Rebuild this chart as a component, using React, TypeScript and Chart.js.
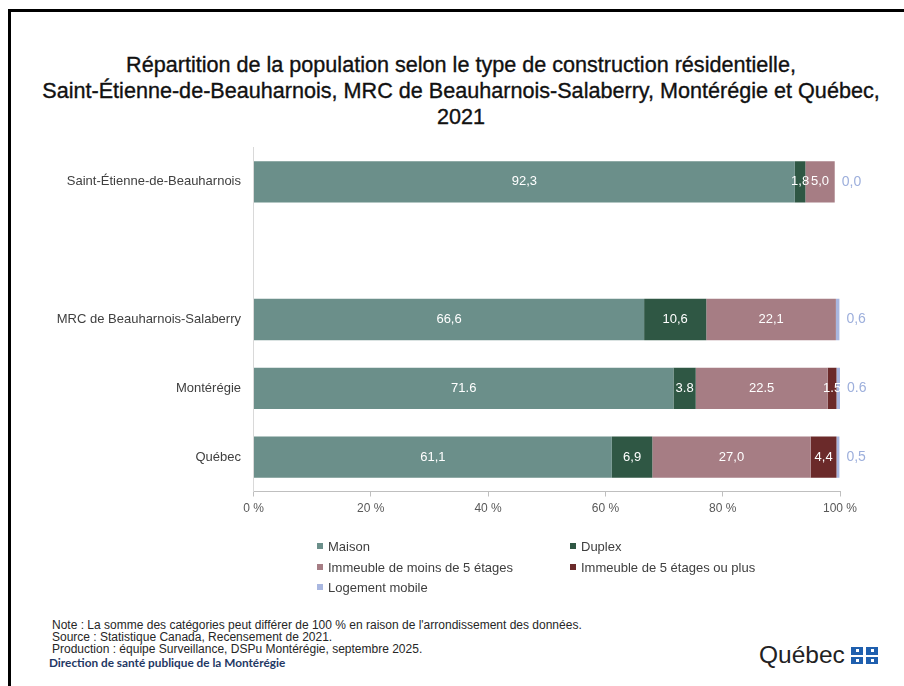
import React, { useEffect, useRef } from "react";
import { Chart, registerables } from "chart.js";

Chart.register(...registerables);

const titleLines = [
  "Répartition de la population selon le type de construction résidentielle,",
  "Saint-Étienne-de-Beauharnois, MRC de Beauharnois-Salaberry, Montérégie et Québec,",
  "2021",
];

const categories = [
  "Saint-Étienne-de-Beauharnois",
  "",
  "MRC de Beauharnois-Salaberry",
  "Montérégie",
  "Québec",
];

const seriesNames = [
  "Maison",
  "Duplex",
  "Immeuble de moins de 5 étages",
  "Immeuble de 5 étages ou plus",
  "Logement mobile",
];

const maison = [92.3, null, 66.6, 71.6, 61.1];
const duplex = [1.8, null, 10.6, 3.8, 6.9];
const immeubleMoins5 = [5.0, null, 22.1, 22.5, 27.0];
const immeuble5Plus = [0, null, 0, 1.5, 4.4];
const logementMobile = [0.0, null, 0.6, 0.6, 0.5];

const decimalSeparators = [",", ",", ",", ".", ","];

const xTickValues = [0, 20, 40, 60, 80, 100];

const seriesColors = ["#6b8f8a", "#2f5744", "#a67d84", "#6b2a2a", "#a9b7e0"];

const footerLines = [
  "Note : La somme des catégories peut différer de 100 % en raison de l'arrondissement des données.",
  "Source : Statistique Canada, Recensement de 2021.",
  "Production : équipe Surveillance, DSPu Montérégie, septembre 2025.",
];

const FONT = "'Liberation Sans', Arial, sans-serif";

const segmentLabels = {
  id: "segmentLabels",
  afterDatasetsDraw(chart: any) {
    const ctx = chart.ctx;
    const lastIndex = chart.data.datasets.length - 1;
    chart.data.datasets.forEach((ds: any, di: number) => {
      const meta = chart.getDatasetMeta(di);
      meta.data.forEach((el: any, i: number) => {
        const v = ds.data[i];
        if (v === null || v === undefined) return;
        const text = Number(v).toFixed(1).replace(".", decimalSeparators[i]);
        const props = el.getProps(["x", "y", "base"], true);
        if (di === lastIndex) {
          ctx.save();
          ctx.font = `14px ${FONT}`;
          ctx.fillStyle = "#9dafdc";
          ctx.textAlign = "left";
          ctx.textBaseline = "middle";
          ctx.fillText(text, props.x + 7, props.y);
          ctx.restore();
        } else {
          if (v <= 0) return;
          ctx.save();
          ctx.font = `13px ${FONT}`;
          ctx.fillStyle = "#ffffff";
          ctx.textAlign = "center";
          ctx.textBaseline = "middle";
          ctx.fillText(text, (props.x + props.base) / 2, props.y);
          ctx.restore();
        }
      });
    });
  },
};

export default function App() {
  const canvasRef = useRef<HTMLCanvasElement | null>(null);

  useEffect(() => {
    if (!canvasRef.current) return;
    const seriesData = [maison, duplex, immeubleMoins5, immeuble5Plus, logementMobile];
    const chart = new Chart(canvasRef.current, {
      type: "bar",
      data: {
        labels: categories,
        datasets: seriesData.map((d, k) => ({
          label: seriesNames[k],
          data: d as any,
          backgroundColor: seriesColors[k],
          borderWidth: 0,
          barPercentage: 0.6,
          categoryPercentage: 1,
        })),
      },
      options: {
        indexAxis: "y",
        responsive: false,
        animation: false,
        layout: { padding: { top: 147.5, right: 64, bottom: 0, left: 0 } },
        plugins: {
          legend: { display: false },
          title: { display: false },
          tooltip: { enabled: false },
        },
        scales: {
          x: {
            stacked: true,
            min: 0,
            max: 100,
            afterBuildTicks: (scale: any) => {
              scale.ticks = xTickValues.map((v) => ({ value: v }));
            },
            ticks: {
              callback: (v: any) => `${v} %`,
              color: "#595959",
              font: { family: FONT, size: 12 },
              padding: 5,
            },
            grid: {
              drawOnChartArea: false,
              drawTicks: true,
              tickLength: 5,
              color: "#bfbfbf",
            },
            border: { display: true, color: "#bfbfbf" },
            afterFit: (scale: any) => {
              scale.height = 48.5;
            },
          },
          y: {
            stacked: true,
            ticks: {
              color: "#404040",
              font: { family: FONT, size: 13 },
              padding: 12.5,
            },
            grid: { display: false, drawTicks: false },
            border: { display: true, color: "#d9d9d9" },
            afterFit: (scale: any) => {
              scale.width = 253.5;
            },
          },
        },
      } as any,
      plugins: [segmentLabels],
    });
    return () => chart.destroy();
  }, []);

  const legendPos = [
    { x: 317, y: 546 },
    { x: 570, y: 546 },
    { x: 317, y: 567 },
    { x: 570, y: 567 },
    { x: 317, y: 587 },
  ];

  return (
    <div
      style={{
        position: "fixed",
        left: 0,
        top: 0,
        width: 904,
        height: 686,
        background: "#ffffff",
        overflow: "hidden",
        fontFamily: FONT,
      }}
    >
      <div
        style={{
          position: "absolute",
          left: 8,
          top: 9,
          width: 920,
          height: 700,
          borderTop: "3px solid #000",
          borderLeft: "3px solid #000",
          boxSizing: "border-box",
        }}
      />
      <div
        style={{
          position: "absolute",
          left: 0,
          top: 52,
          width: 922,
          textAlign: "center",
          fontSize: 21.6,
          lineHeight: "26px",
          color: "#111",
          WebkitTextStroke: "0.35px #111",
        }}
      >
        {titleLines.map((t, i) => (
          <div key={i} style={{ whiteSpace: "nowrap" }}>{t}</div>
        ))}
      </div>
      <canvas
        ref={canvasRef}
        width={904}
        height={540}
        style={{ position: "absolute", left: 0, top: 0, width: 904, height: 540 }}
      />
      {seriesNames.map((name, k) => (
        <div
          key={name}
          style={{
            position: "absolute",
            left: legendPos[k].x,
            top: legendPos[k].y - 9,
            height: 18,
            display: "flex",
            alignItems: "center",
            fontSize: 13,
            color: "#404040",
            whiteSpace: "nowrap",
          }}
        >
          <span
            style={{
              display: "inline-block",
              width: 6,
              height: 6,
              background: seriesColors[k],
              marginRight: 5,
            }}
          />
          {name}
        </div>
      ))}
      <div
        style={{
          position: "absolute",
          left: 52,
          top: 618.5,
          fontSize: 12,
          lineHeight: "12.2px",
          color: "#262626",
          whiteSpace: "nowrap",
        }}
      >
        {footerLines.map((t, i) => (
          <div key={i}>{t}</div>
        ))}
      </div>
      <div
        style={{
          position: "absolute",
          left: 49,
          top: 656,
          fontSize: 11.8,
          lineHeight: "14px",
          fontWeight: "bold",
          fontFamily: "Lato, 'Liberation Sans', sans-serif",
          color: "#1f3864",
          whiteSpace: "nowrap",
        }}
      >
        Direction de santé publique de la Montérégie
      </div>
      <div
        style={{
          position: "absolute",
          left: 759,
          top: 641,
          fontSize: 24.5,
          lineHeight: "28px",
          color: "#222",
          whiteSpace: "nowrap",
        }}
      >
        Québec
      </div>
      <div
        style={{
          position: "absolute",
          left: 851,
          top: 647,
          width: 27,
          height: 17,
          display: "grid",
          gridTemplateColumns: "12px 12px",
          gridTemplateRows: "7.5px 7.5px",
          gap: "2px 3px",
        }}
      >
        {[0, 1, 2, 3].map((q) => (
          <div
            key={q}
            style={{
              background: "#1f5fae",
              display: "flex",
              alignItems: "center",
              justifyContent: "center",
            }}
          >
            <div style={{ width: 3, height: 3, background: "#fff" }} />
          </div>
        ))}
      </div>
    </div>
  );
}
